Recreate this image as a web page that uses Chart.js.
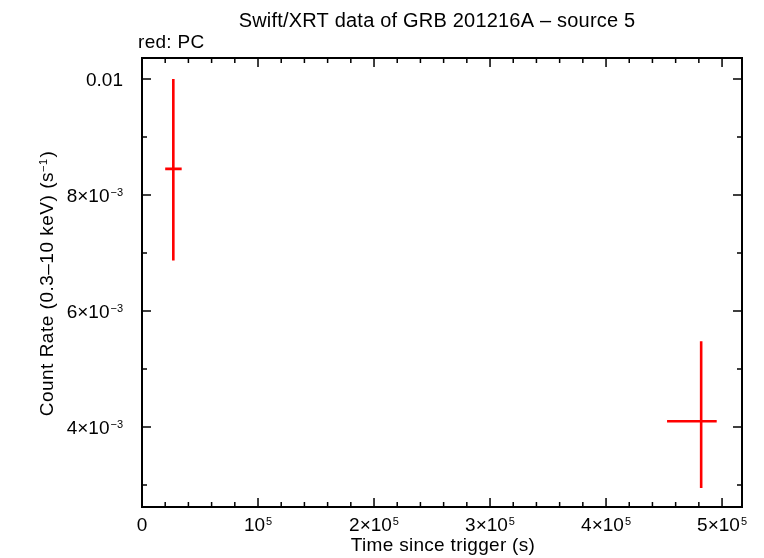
<!DOCTYPE html>
<html>
<head>
<meta charset="utf-8">
<script src="https://cdn.jsdelivr.net/npm/chart.js@4.4.0/dist/chart.umd.min.js"></script>
<style>
html,body{margin:0;padding:0;background:#fff;}
#wrap{width:764px;height:558px;}
</style>
</head>
<body>
<div id="wrap"><canvas id="c" width="764" height="558"></canvas></div>
<script>
// ---- data ----
const times   = [2.7e4, 4.82e5];
const timeLo  = [2.0e4, 4.526e5];
const timeHi  = [3.42e4, 4.954e5];
const rates   = [8.45e-3, 4.10e-3];
const rateLo  = [6.87e-3, 2.95e-3];
const rateHi  = [1.0e-2, 5.48e-3];

const xTickValues = [0, 1e5, 2e5, 3e5, 4e5, 5e5];
const xTickLabels = [["0",""], ["10","5"], ["2×10","5"], ["3×10","5"], ["4×10","5"], ["5×10","5"]];
const xMinorStep = 2e4;
const yTickValues = [0.01, 8e-3, 6e-3, 4e-3];
const yTickLabels = [["0.01",""], ["8×10","−3"], ["6×10","−3"], ["4×10","−3"]];
const yMinorStep = 1e-3;

const titleText = "Swift/XRT data of GRB 201216A – source 5";
const subText = "red: PC";
const xTitle = "Time since trigger (s)";
const yTitleBase = "Count Rate (0.3–10 keV) (s";
const yTitleSup = "−1";
const yTitleEnd = ")";

const FONT = "'Liberation Sans', Arial, Helvetica, sans-serif";
const BIG = "19px " + FONT;
const SMALL = "11px " + FONT;

function drawSupLabel(ctx, base, sup, x, y, align) {
  ctx.font = BIG;
  const wb = ctx.measureText(base).width;
  ctx.font = SMALL;
  const ws = sup ? ctx.measureText(sup).width + 1 : 0;
  const total = wb + ws;
  let left;
  if (align === 'center') left = x - total / 2;
  else if (align === 'right') left = x - total;
  else left = x;
  ctx.textAlign = 'left';
  ctx.textBaseline = 'alphabetic';
  ctx.font = BIG;
  ctx.fillText(base, left, y);
  if (sup) {
    ctx.font = SMALL;
    ctx.fillText(sup, left + wb + 1, y - 6);
  }
}

const decorPlugin = {
  id: 'decor',
  afterDatasetsDraw(chart) {
    const ctx = chart.ctx;
    const xs = chart.scales.x, ys = chart.scales.y;
    const a = chart.chartArea;
    ctx.save();
    // error bars
    ctx.strokeStyle = '#ff0000';
    ctx.lineWidth = 2.6;
    ctx.lineCap = 'butt';
    for (let i = 0; i < times.length; i++) {
      const px = xs.getPixelForValue(times[i]);
      const py = ys.getPixelForValue(rates[i]);
      ctx.beginPath();
      ctx.moveTo(xs.getPixelForValue(timeLo[i]), py);
      ctx.lineTo(xs.getPixelForValue(timeHi[i]), py);
      ctx.moveTo(px, ys.getPixelForValue(rateLo[i]));
      ctx.lineTo(px, ys.getPixelForValue(rateHi[i]));
      ctx.stroke();
    }
    // frame
    ctx.strokeStyle = '#000';
    ctx.lineWidth = 2;
    ctx.strokeRect(a.left, a.top, a.right - a.left, a.bottom - a.top);
    // x ticks
    ctx.lineWidth = 1.5;
    ctx.beginPath();
    for (let v = 0; v <= xs.max; v += xMinorStep) {
      const p = xs.getPixelForValue(v);
      const major = xTickValues.some(t => Math.abs(t - v) < 1);
      const L = major ? 9 : 5;
      ctx.moveTo(p, a.bottom); ctx.lineTo(p, a.bottom - L);
      ctx.moveTo(p, a.top); ctx.lineTo(p, a.top + L);
    }
    // y ticks
    for (let k = Math.ceil(ys.min / yMinorStep); k * yMinorStep <= ys.max + 1e-12; k++) {
      const v = k * yMinorStep;
      const p = ys.getPixelForValue(v);
      const major = yTickValues.some(t => Math.abs(t - v) < 1e-9);
      const L = major ? 9 : 5;
      ctx.moveTo(a.left, p); ctx.lineTo(a.left + L, p);
      ctx.moveTo(a.right, p); ctx.lineTo(a.right - L, p);
    }
    ctx.stroke();
    // tick labels
    ctx.fillStyle = '#000';
    xTickValues.forEach((v, i) => {
      drawSupLabel(ctx, xTickLabels[i][0], xTickLabels[i][1], xs.getPixelForValue(v), a.bottom + 24, 'center');
    });
    yTickValues.forEach((v, i) => {
      drawSupLabel(ctx, yTickLabels[i][0], yTickLabels[i][1], a.left - 19, ys.getPixelForValue(v) + 7, 'right');
    });
    // titles
    ctx.textBaseline = 'alphabetic';
    ctx.textAlign = 'center';
    ctx.font = "20px " + FONT;
    ctx.letterSpacing = "0.2px";
    ctx.fillText(titleText, 437, 27);
    ctx.font = BIG;
    ctx.letterSpacing = "0.3px";
    ctx.textAlign = 'left';
    ctx.fillText(subText, 138, 48);
    ctx.textAlign = 'center';
    ctx.fillText(xTitle, 443, 551);
    // y title rotated
    ctx.save();
    ctx.translate(53, (a.top + a.bottom) / 2 + 1);
    ctx.rotate(-Math.PI / 2);
    ctx.letterSpacing = "0.5px";
    ctx.font = BIG;
    const w1 = ctx.measureText(yTitleBase).width;
    const w3 = ctx.measureText(yTitleEnd).width;
    ctx.font = SMALL;
    const w2 = ctx.measureText(yTitleSup).width;
    let left = -(w1 + w2 + w3 + 1) / 2;
    ctx.textAlign = 'left';
    ctx.font = BIG;
    ctx.fillText(yTitleBase, left, 0);
    ctx.font = SMALL;
    ctx.fillText(yTitleSup, left + w1, -6);
    ctx.font = BIG;
    ctx.fillText(yTitleEnd, left + w1 + w2 + 1, 0);
    ctx.restore();
    ctx.letterSpacing = "0px";
    ctx.restore();
  }
};

new Chart(document.getElementById('c'), {
  type: 'scatter',
  data: {
    datasets: [{
      data: times.map((t, i) => ({x: t, y: rates[i]})),
      pointRadius: 0,
      showLine: false,
      borderColor: '#ff0000',
      backgroundColor: '#ff0000'
    }]
  },
  options: {
    responsive: false,
    animation: false,
    devicePixelRatio: 1,
    layout: {padding: {left: 142, right: 22, top: 58, bottom: 51}},
    plugins: {legend: {display: false}, tooltip: {enabled: false}, title: {display: false}},
    scales: {
      x: {type: 'linear', min: 0, max: 5.172e5, display: false},
      y: {type: 'linear', min: 2.621e-3, max: 1.0362e-2, display: false}
    }
  },
  plugins: [decorPlugin]
});
</script>
</body>
</html>
